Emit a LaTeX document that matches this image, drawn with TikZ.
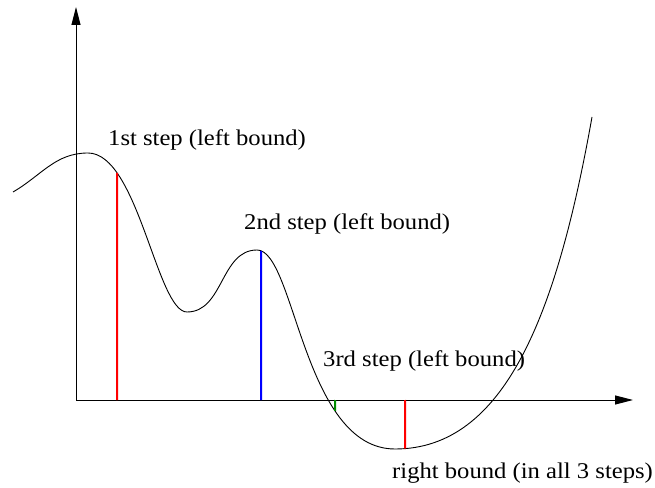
\documentclass[tikz,border=0pt]{standalone}
\usepackage{fontspec}
\setmainfont{Liberation Serif}
\newfontfamily\lblfont{Liberation Serif}[FakeStretch=1.095]
\usetikzlibrary{arrows.meta,intersections}
\definecolor{dgreen}{RGB}{0,140,0}
\begin{document}
\begin{tikzpicture}[x=1pt,y=1pt,
  axis/.style={line width=1pt,-{Triangle[length=18pt,width=9pt]}},
  fcurve/.style={line width=0.9pt},
  bar/.style={line width=2pt},
  lbl/.style={anchor=base west,inner sep=0pt,font=\lblfont\fontsize{22.5}{26}\selectfont}]
\useasboundingbox (0,0) rectangle (655,487);
% axes
\coordinate (O) at (76,87);
\coordinate (Ytop) at (76,480);
\coordinate (Xend) at (633,87);
\draw[axis] (O) -- (Ytop);
\draw[axis] (O) -- (Xend);
% curve
\draw[fcurve,name path=curve] (13,295) to[out=30,in=180] (88,334)
  .. controls (138,334) and (157,175) .. (187,175)
  to[out=0,in=180] (257,237)
  .. controls (295,237) and (303,38) .. (395,38)
  .. controls (505,38) and (557,173) .. (592,370);
% vertical guides (invisible)
\path[name path=v1] (117,20) -- (117,470);
\path[name path=v2] (261,20) -- (261,470);
\path[name path=v3] (335,20) -- (335,470);
\path[name path=v4] (405,20) -- (405,470);
\path[name intersections={of=curve and v1,by=c1}];
\path[name intersections={of=curve and v2,by=c2}];
\path[name intersections={of=curve and v3,by=c3}];
\path[name intersections={of=curve and v4,by=c4}];
\coordinate (a1) at (117,87);
\coordinate (a2) at (261,87);
\coordinate (a3) at (335,87);
\coordinate (a4) at (405,87);
\draw[bar,red] (a1) -- (c1);
\draw[bar,blue] (a2) -- (c2);
\draw[bar,dgreen] (a3) -- (c3);
\draw[bar,red] (a4) -- (c4);
% labels
\node[lbl] (l1) at (108,341) {1st step (left bound)};
\node[lbl] (l2) at (244,257) {2nd step (left bound)};
\node[lbl] (l3) at (323,120) {3rd step (left bound)};
\node[lbl] (l4) at (392,9) {right bound (in all 3 steps)};
\end{tikzpicture}
\end{document}
